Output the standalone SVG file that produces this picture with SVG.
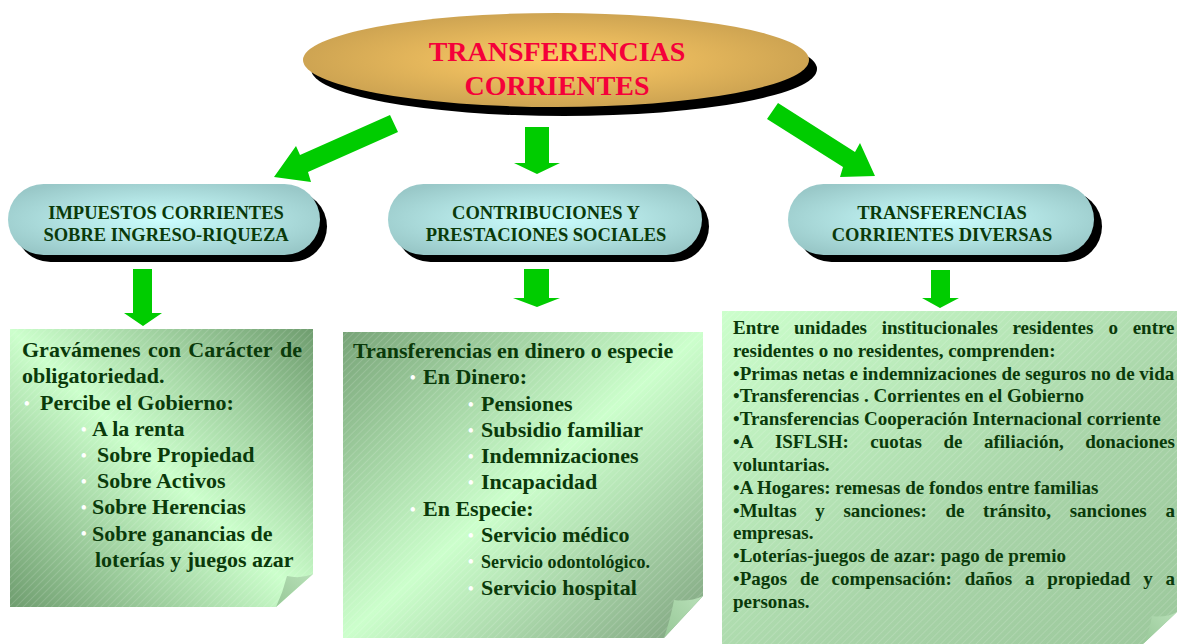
<svg xmlns="http://www.w3.org/2000/svg" width="1177" height="644" viewBox="0 0 1177 644">
<defs>
<radialGradient id="gold" cx="50%" cy="50%" r="55%">
<stop offset="0" stop-color="#ffcc66"/>
<stop offset="1" stop-color="#c9a050"/>
</radialGradient>
<radialGradient id="cyan" cx="50%" cy="50%" r="60%">
<stop offset="0" stop-color="#ccffff"/>
<stop offset="1" stop-color="#99c8c8"/>
</radialGradient>
<linearGradient id="gLeft" x1="1" y1="0" x2="0" y2="1">
<stop offset="0" stop-color="#6f9d6f"/>
<stop offset="0.5" stop-color="#ccffcc"/>
<stop offset="1" stop-color="#6f9d6f"/>
</linearGradient>
<linearGradient id="gMid" x1="0" y1="0" x2="1" y2="1">
<stop offset="0" stop-color="#78a478"/>
<stop offset="0.5" stop-color="#ccffcc"/>
<stop offset="1" stop-color="#7fa37f"/>
</linearGradient>
<linearGradient id="gRight" x1="0" y1="0" x2="1" y2="1">
<stop offset="0" stop-color="#ccffcc"/>
<stop offset="0.6" stop-color="#a8d4a8"/>
<stop offset="1" stop-color="#9cc89c"/>
</linearGradient>
<linearGradient id="gFold" x1="0" y1="1" x2="1" y2="0">
<stop offset="0" stop-color="#98c898"/>
<stop offset="1" stop-color="#b8e0b8"/>
</linearGradient>
<pattern id="hatch" width="5" height="5" patternUnits="userSpaceOnUse" patternTransform="rotate(45)">
<line x1="0" y1="0" x2="0" y2="5" stroke="#ffffff" stroke-width="1" stroke-opacity="0.28"/>
</pattern>
<style>
.t{font-family:"Liberation Serif","Times New Roman",serif;font-weight:bold}
.title{fill:#f5003a;font-size:28px;text-anchor:middle}
.pill{fill:#0a3a0a;font-size:18.5px;text-anchor:middle}
.b22{fill:#0a3a0a;font-size:22px}
.b18{fill:#0a3a0a;font-size:18px}
.b19{fill:#0a3a0a;font-size:19px}
.bul{fill:#ffffff;font-size:16px}
.arrow{fill:#00cc00}
.shadow{fill:#000000}
</style>
</defs>

<g id="title-node">
<ellipse class="shadow" cx="564" cy="69" rx="253" ry="47"/>
<ellipse cx="556" cy="60" rx="253" ry="47" fill="url(#gold)"/>
<text class="t title" x="557" y="61">TRANSFERENCIAS</text>
<text class="t title" x="557" y="95">CORRIENTES</text>
</g>

<g id="connectors">
<polygon class="arrow" points="390,115 300,155 296,146 274,177 311,182 308,172 398,132"/>
<polygon class="arrow" points="525,127 549,127 549,163 560,163 537,174 514,163 525,163"/>
<polygon class="arrow" points="778,103 855,152 860,143 875,176 840,177 843,167 767,119"/>
<polygon class="arrow" points="133,269 152,269 152,313 162,313 143,326 124,313 133,313"/>
<polygon class="arrow" points="524,269 549,269 549,298 560,298 537,307 513,298 524,298"/>
<polygon class="arrow" points="931,270 950,270 950,298 959,298 940,308 922,298 931,298"/>
</g>

<g id="pill-impuestos">
<rect class="shadow" x="15" y="191" width="312" height="71" rx="35.5"/>
<rect x="8" y="184" width="312" height="71" rx="35.5" fill="url(#cyan)"/>
<text class="t pill" x="166" y="219">IMPUESTOS CORRIENTES</text>
<text class="t pill" x="166" y="241">SOBRE INGRESO-RIQUEZA</text>
</g>

<g id="pill-contribuciones">
<rect class="shadow" x="395" y="191" width="314" height="71" rx="35.5"/>
<rect x="388" y="184" width="314" height="71" rx="35.5" fill="url(#cyan)"/>
<text class="t pill" x="546" y="219">CONTRIBUCIONES Y</text>
<text class="t pill" x="546" y="241">PRESTACIONES SOCIALES</text>
</g>

<g id="pill-diversas">
<rect class="shadow" x="796" y="191" width="306" height="71" rx="35.5"/>
<rect x="788" y="184" width="306" height="71" rx="35.5" fill="url(#cyan)"/>
<text class="t pill" x="942" y="219">TRANSFERENCIAS</text>
<text class="t pill" x="942" y="241">CORRIENTES DIVERSAS</text>
</g>

<g id="box-impuestos">
<polygon points="10,329 313,329 313,574 276,607 10,607" fill="url(#gLeft)"/>
<polygon points="10,329 313,329 313,574 276,607 10,607" fill="url(#hatch)"/>
<path d="M276,607 Q283,592 287,576 Q301,579 313,574 Z" fill="url(#gFold)"/>
<text class="t b22" y="357"><tspan x="22">Gravámenes</tspan><tspan x="147.9">con</tspan><tspan x="188.3">Carácter</tspan><tspan x="280">de</tspan></text>
<text class="t b22" x="22" y="383">obligatoriedad.</text>
<text class="t bul" x="24" y="409">•</text>
<text class="t b22" x="40" y="410">Percibe el Gobierno:</text>
<text class="t bul" x="81" y="435">•</text>
<text class="t b22" x="92" y="436">A la renta</text>
<text class="t bul" x="81" y="461">•</text>
<text class="t b22" x="97" y="462">Sobre Propiedad</text>
<text class="t bul" x="81" y="487">•</text>
<text class="t b22" x="97" y="488">Sobre Activos</text>
<text class="t bul" x="81" y="513">•</text>
<text class="t b22" x="92" y="514">Sobre Herencias</text>
<text class="t bul" x="81" y="539">•</text>
<text class="t b22" x="92" y="541">Sobre ganancias de</text>
<text class="t b22" x="95" y="567">loterías y juegos azar</text>
</g>

<g id="box-contribuciones">
<polygon points="343,332 703,332 703,596 664,638 343,638" fill="url(#gMid)"/>
<polygon points="343,332 703,332 703,596 664,638 343,638" fill="url(#hatch)"/>
<path d="M664,638 Q671,617 674,600 Q690,602 703,596 Z" fill="url(#gFold)"/>
<text class="t b22" x="353" y="358">Transferencias en dinero o especie</text>
<text class="t bul" x="410" y="383">•</text>
<text class="t b22" x="423" y="384">En Dinero:</text>
<text class="t bul" x="468" y="410">•</text>
<text class="t b22" x="481" y="411">Pensiones</text>
<text class="t bul" x="468" y="436">•</text>
<text class="t b22" x="481" y="437">Subsidio familiar</text>
<text class="t bul" x="468" y="462">•</text>
<text class="t b22" x="481" y="463">Indemnizaciones</text>
<text class="t bul" x="468" y="488">•</text>
<text class="t b22" x="481" y="489">Incapacidad</text>
<text class="t bul" x="410" y="515">•</text>
<text class="t b22" x="423" y="516">En Especie:</text>
<text class="t bul" x="468" y="541">•</text>
<text class="t b22" x="481" y="542">Servicio médico</text>
<text class="t bul" x="468" y="567">•</text>
<text class="t b18" x="481" y="568">Servicio odontológico.</text>
<text class="t bul" x="468" y="594">•</text>
<text class="t b22" x="481" y="595">Servicio hospital</text>
</g>

<g id="box-diversas">
<polygon points="722,311 1177,311 1177,612 1143,644 722,644" fill="url(#gRight)"/>
<polygon points="722,311 1177,311 1177,612 1143,644 722,644" fill="url(#hatch)"/>
<path d="M1143,644 Q1150,630 1152,616 Q1166,618 1177,612 Z" fill="url(#gFold)"/>
<text class="t b19" y="334"><tspan x="733">Entre</tspan><tspan x="794.1">unidades</tspan><tspan x="881.7">institucionales</tspan><tspan x="1012.5">residentes</tspan><tspan x="1108.5">o</tspan><tspan x="1132.7">entre</tspan></text>
<text class="t b19" x="733" y="357">residentes o no residentes, comprenden:</text>
<text class="t b19" x="733" y="380">•Primas netas e indemnizaciones de seguros no de vida</text>
<text class="t b19" x="733" y="402">•Transferencias . Corrientes en el Gobierno</text>
<text class="t b19" x="733" y="425">•Transferencias Cooperación Internacional corriente</text>
<text class="t b19" y="448"><tspan x="733">•A</tspan><tspan x="774.9">ISFLSH:</tspan><tspan x="870.3">cuotas</tspan><tspan x="943.5">de</tspan><tspan x="984">afiliación,</tspan><tspan x="1085.2">donaciones</tspan></text>
<text class="t b19" x="733" y="471">voluntarias.</text>
<text class="t b19" x="733" y="494">•A Hogares: remesas de fondos entre familias</text>
<text class="t b19" y="517"><tspan x="733">•Multas</tspan><tspan x="815.3">y</tspan><tspan x="843.4">sanciones:</tspan><tspan x="945.4">de</tspan><tspan x="983">tránsito,</tspan><tspan x="1069.7">sanciones</tspan><tspan x="1165.4">a</tspan></text>
<text class="t b19" x="733" y="539">empresas.</text>
<text class="t b19" x="733" y="562">•Loterías-juegos de azar: pago de premio</text>
<text class="t b19" y="585"><tspan x="733">•Pagos</tspan><tspan x="799.9">de</tspan><tspan x="831.6">compensación:</tspan><tspan x="964.7">daños</tspan><tspan x="1024.9">a</tspan><tspan x="1047.2">propiedad</tspan><tspan x="1143.3">y</tspan><tspan x="1165.5">a</tspan></text>
<text class="t b19" x="733" y="608">personas.</text>
</g>
</svg>
